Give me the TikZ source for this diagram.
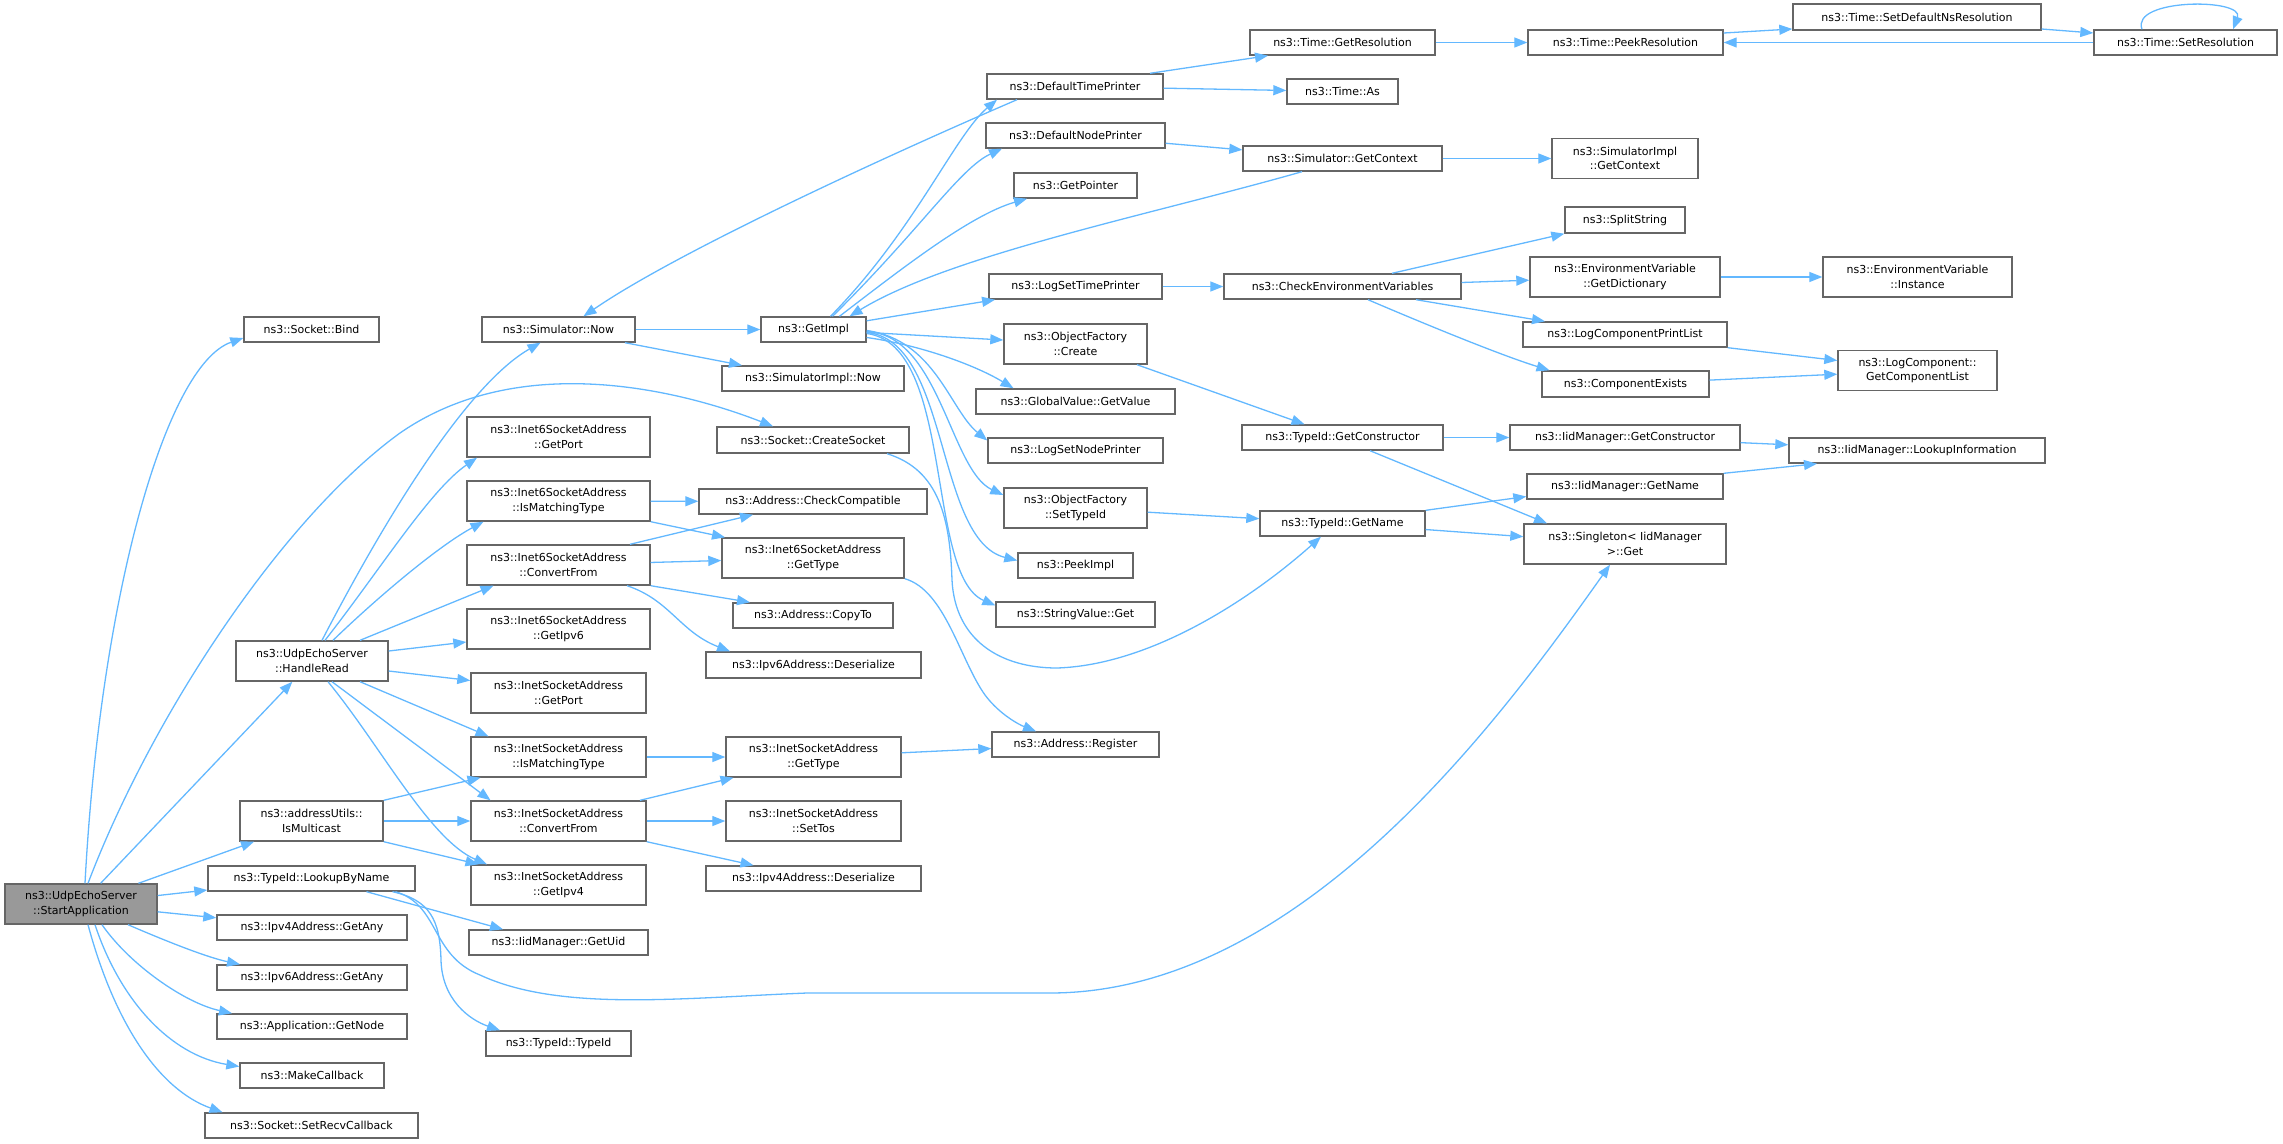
\documentclass[tikz,border=0pt]{standalone}
\usepackage{fontspec}
\setmainfont{DejaVu Sans}
\usetikzlibrary{arrows.meta}
\definecolor{edgeblue}{HTML}{63B8FF}
\definecolor{boxgray}{HTML}{666666}
\definecolor{rootfill}{HTML}{999999}
\begin{document}
\begin{tikzpicture}[x=1pt,y=-1pt,
  box/.style={draw=boxgray, line width=1.4pt, fill=white, inner sep=0pt, align=center, font=\fontsize{11}{14.5}\selectfont},
  root/.style={box, fill=rootfill},
  sz/.style 2 args={minimum width=#1pt, minimum height=#2pt},
  edge/.style={draw=edgeblue, line width=1.3pt, -{Triangle[length=13pt,width=10pt]}},
]
\useasboundingbox (0,0) rectangle (2283,1143);
% column 1-2
\node[root, sz={152}{40}] (sa) at (81,904) {ns3::UdpEchoServer\\::StartApplication};
\node[box, sz={135}{25}] (bind) at (311.5,329.5) {ns3::Socket::Bind};
\node[box, sz={152}{40}] (hr) at (312,661) {ns3::UdpEchoServer\\::HandleRead};
\node[box, sz={143}{40}] (ismc) at (311.5,821) {ns3::addressUtils::\\IsMulticast};
\node[box, sz={207}{25}] (lbn) at (311.5,878.5) {ns3::TypeId::LookupByName};
\node[box, sz={190}{25}] (v4any) at (312,927.5) {ns3::Ipv4Address::GetAny};
\node[box, sz={190}{25}] (v6any) at (312,977.5) {ns3::Ipv6Address::GetAny};
\node[box, sz={190}{25}] (getnode) at (312,1026.5) {ns3::Application::GetNode};
\node[box, sz={144}{25}] (mkcb) at (312,1075.5) {ns3::MakeCallback};
\node[box, sz={213}{25}] (recv) at (311.5,1125.5) {ns3::Socket::SetRecvCallback};
% column 3
\node[box, sz={153}{25}] (now) at (558.5,329.5) {ns3::Simulator::Now};
\node[box, sz={183}{40}] (i6port) at (558.5,437) {ns3::Inet6SocketAddress\\::GetPort};
\node[box, sz={183}{40}] (i6match) at (558.5,501) {ns3::Inet6SocketAddress\\::IsMatchingType};
\node[box, sz={183}{40}] (i6conv) at (558.5,565) {ns3::Inet6SocketAddress\\::ConvertFrom};
\node[box, sz={183}{40}] (i6ipv6) at (558.5,629) {ns3::Inet6SocketAddress\\::GetIpv6};
\node[box, sz={175}{40}] (i4port) at (558.5,693) {ns3::InetSocketAddress\\::GetPort};
\node[box, sz={175}{40}] (i4match) at (558.5,757) {ns3::InetSocketAddress\\::IsMatchingType};
\node[box, sz={175}{40}] (i4conv) at (558.5,821) {ns3::InetSocketAddress\\::ConvertFrom};
\node[box, sz={175}{40}] (i4ipv4) at (558.5,885) {ns3::InetSocketAddress\\::GetIpv4};
\node[box, sz={179}{25}] (getuid) at (558.5,942.5) {ns3::IidManager::GetUid};
\node[box, sz={145}{25}] (tid) at (558.5,1043.5) {ns3::TypeId::TypeId};
% column 4
\node[box, sz={105}{25}] (getimpl) at (813.5,329.5) {ns3::GetImpl};
\node[box, sz={182}{25}] (simimplnow) at (813,378.5) {ns3::SimulatorImpl::Now};
\node[box, sz={192}{26}] (create) at (813,440) {ns3::Socket::CreateSocket};
\node[box, sz={228}{25}] (checkc) at (813,501.5) {ns3::Address::CheckCompatible};
\node[box, sz={182}{40}] (i6type) at (813,558) {ns3::Inet6SocketAddress\\::GetType};
\node[box, sz={160}{25}] (copyto) at (813,615.5) {ns3::Address::CopyTo};
\node[box, sz={215}{26}] (v6deser) at (813.5,665) {ns3::Ipv6Address::Deserialize};
\node[box, sz={175}{40}] (i4type) at (813.5,757) {ns3::InetSocketAddress\\::GetType};
\node[box, sz={175}{40}] (settos) at (813.5,821) {ns3::InetSocketAddress\\::SetTos};
\node[box, sz={215}{25}] (v4deser) at (813.5,878.5) {ns3::Ipv4Address::Deserialize};
% column 5
\node[box, sz={176}{25}] (dtp) at (1075,86.5) {ns3::DefaultTimePrinter};
\node[box, sz={179}{25}] (dnp) at (1075.5,135.5) {ns3::DefaultNodePrinter};
\node[box, sz={123}{25}] (getptr) at (1075.5,185.5) {ns3::GetPointer};
\node[box, sz={173}{25}] (lstp) at (1075.5,286.5) {ns3::LogSetTimePrinter};
\node[box, sz={143}{40}] (ofcreate) at (1075.5,344) {ns3::ObjectFactory\\::Create};
\node[box, sz={199}{25}] (gvget) at (1075.5,401.5) {ns3::GlobalValue::GetValue};
\node[box, sz={175}{25}] (lsnp) at (1075.5,450.5) {ns3::LogSetNodePrinter};
\node[box, sz={143}{40}] (ofset) at (1075.5,508) {ns3::ObjectFactory\\::SetTypeId};
\node[box, sz={115}{25}] (peek) at (1075.5,565.5) {ns3::PeekImpl};
\node[box, sz={159}{25}] (svget) at (1075.5,614.5) {ns3::StringValue::Get};
\node[box, sz={167}{25}] (reg) at (1075.5,744.5) {ns3::Address::Register};
% column 6
\node[box, sz={185}{25}] (getres) at (1342.5,42.5) {ns3::Time::GetResolution};
\node[box, sz={111}{25}] (timeas) at (1342.5,91.5) {ns3::Time::As};
\node[box, sz={199}{25}] (getctx) at (1342.5,158.5) {ns3::Simulator::GetContext};
\node[box, sz={237}{25}] (cev) at (1342.5,286.5) {ns3::CheckEnvironmentVariables};
\node[box, sz={201}{25}] (getctor) at (1342.5,437.5) {ns3::TypeId::GetConstructor};
\node[box, sz={165}{25}] (getname) at (1342.5,523.5) {ns3::TypeId::GetName};
% column 7
\node[box, sz={195}{25}] (peekres) at (1625.5,42.5) {ns3::Time::PeekResolution};
\node[box, sz={146}{40}] (sigctx) at (1625,158.5) {ns3::SimulatorImpl\\::GetContext};
\node[box, sz={120}{26}] (split) at (1625,220) {ns3::SplitString};
\node[box, sz={190}{40}] (getdict) at (1625,277) {ns3::EnvironmentVariable\\::GetDictionary};
\node[box, sz={204}{25}] (lcpl) at (1625,334.5) {ns3::LogComponentPrintList};
\node[box, sz={167}{26}] (cexists) at (1625.5,384) {ns3::ComponentExists};
\node[box, sz={230}{25}] (iidctor) at (1625,437.5) {ns3::IidManager::GetConstructor};
\node[box, sz={196}{25}] (iidname) at (1625,486.5) {ns3::IidManager::GetName};
\node[box, sz={202}{40}] (singleton) at (1625,544) {ns3::Singleton< IidManager\\ >::Get};
% column 8-9
\node[box, sz={248}{26}] (setdef) at (1917,17) {ns3::Time::SetDefaultNsResolution};
\node[box, sz={189}{40}] (instance) at (1917.5,277) {ns3::EnvironmentVariable\\::Instance};
\node[box, sz={159}{40}] (gcl) at (1917.5,370.5) {ns3::LogComponent::\\GetComponentList};
\node[box, sz={256}{25}] (lookupinfo) at (1917,450.5) {ns3::IidManager::LookupInformation};
\node[box, sz={183}{25}] (setres) at (2185.5,42.5) {ns3::Time::SetResolution};

% ---- edges from StartApplication
\draw[edge] ([xshift=4pt]sa.north) .. controls (100,600) and (165,365) .. ([yshift=-8.5pt]bind.west);
\draw[edge] ([xshift=7pt]sa.north) .. controls (150,720) and (280,520) .. (400,433) .. controls (520,350) and (680,390) .. ([xshift=-40pt]create.north);
\draw[edge] (sa) -- (hr);
\draw[edge] (sa) -- (ismc);
\draw[edge] (sa) -- (lbn);
\draw[edge] (sa) -- (v4any);
\draw[edge] ([xshift=47pt]sa.south) .. controls (175,945) and (210,958) .. ([xshift=-72pt]v6any.north);
\draw[edge] ([xshift=21pt]sa.south) .. controls (130,965) and (185,1003) .. ([xshift=-80pt]getnode.north);
\draw[edge] ([xshift=14pt]sa.south) .. controls (120,1000) and (170,1055) .. ([yshift=9pt]mkcb.west);
\draw[edge] ([xshift=7pt]sa.south) .. controls (115,1025) and (160,1090) .. ([xshift=-89pt]recv.north);
% ---- edges from HandleRead
\draw[edge] ([xshift=10pt]hr.north) .. controls (400,490) and (475,380) .. ([xshift=-18pt]now.south);
\draw[edge] ([xshift=13pt]hr.north) .. controls (380,570) and (430,490) .. ([xshift=-81.5pt]i6port.south);
\draw[edge] ([xshift=21pt]hr.north) .. controls (380,595) and (440,545) .. ([xshift=-75pt]i6match.south);
\draw[edge] ([xshift=48pt]hr.north) -- ([xshift=-65pt]i6conv.south);
\draw[edge] ([yshift=10pt]hr.east) -- ([yshift=-13pt]i6ipv6.west);
\draw[edge] ([yshift=-10pt]hr.east) -- ([yshift=12.5pt]i4port.west);
\draw[edge] ([xshift=48pt]hr.south) -- ([xshift=-70pt]i4match.north);
\draw[edge] ([xshift=20pt]hr.south) -- ([xshift=-68pt]i4conv.north);
\draw[edge] ([xshift=16pt]hr.south) .. controls (380,745) and (430,840) .. ([xshift=-71.5pt]i4ipv4.north);
% ---- IsMulticast
\draw[edge] (ismc.north east) -- ([xshift=-78pt]i4match.south);
\draw[edge] (ismc) -- (i4conv);
\draw[edge] (ismc.south east) -- ([xshift=-80pt]i4ipv4.north);
% ---- LookupByName
\draw[edge] ([xshift=55pt]lbn.south) -- ([xshift=-55.5pt]getuid.north);
\draw[edge] ([xshift=81pt]lbn.south) .. controls (430,900) and (440,920) .. (441,960) .. controls (442,1000) and (470,1020) .. ([xshift=-58.5pt]tid.north);
\draw[edge] ([xshift=84pt]lbn.south) .. controls (440,905) and (430,955) .. (480,975) .. controls (560,1012) and (680,998) .. (807,993) -- (1050,993) .. controls (1300,993) and (1500,720) .. ([xshift=-15pt]singleton.south);
% ---- Simulator::Now
\draw[edge] (now) -- (getimpl);
\draw[edge] ([xshift=66.5pt]now.south) -- ([xshift=-71pt]simimplnow.north);
\draw[edge] ([xshift=-58pt]dtp.south) .. controls (900,150) and (680,250) .. ([xshift=25pt]now.north);
% ---- GetImpl
\draw[edge] ([xshift=17pt]getimpl.north) .. controls (915,230) and (955,135) .. ([xshift=-78pt]dtp.south);
\draw[edge] ([xshift=19pt]getimpl.north) .. controls (920,230) and (960,168) .. ([xshift=-73.5pt]dnp.south);
\draw[edge] ([xshift=26pt]getimpl.north) .. controls (900,270) and (970,215) .. ([xshift=-48.5pt]getptr.south);
\draw[edge] (getimpl) -- (lstp);
\draw[edge] (getimpl) -- (ofcreate);
\draw[edge] ([yshift=-8pt]getimpl.east) .. controls (920,345) and (975,365) .. ([xshift=-62pt]gvget.north);
\draw[edge] ([yshift=-1pt]getimpl.east) .. controls (935,340) and (950,410) .. ([yshift=10pt]lsnp.west);
\draw[edge] ([yshift=-2pt]getimpl.east) .. controls (940,335) and (950,470) .. ([yshift=13pt]ofset.west);
\draw[edge] ([yshift=-3pt]getimpl.east) .. controls (950,340) and (935,540) .. ([yshift=5pt]peek.west);
\draw[edge] ([yshift=-4pt]getimpl.east) .. controls (955,345) and (925,575) .. ([yshift=9pt]svget.west);
% ---- CreateSocket
\draw[edge] ([xshift=74pt]create.south) .. controls (940,470) and (950,520) .. (952,580) .. controls (955,640) and (1000,668) .. (1057,668) .. controls (1150,665) and (1250,600) .. ([xshift=-21.5pt]getname.south);
% ---- Inet6
\draw[edge] (i6match) -- (checkc);
\draw[edge] (i6match.south east) -- ([xshift=-88pt]i6type.north);
\draw[edge] ([xshift=71.5pt]i6conv.north) -- ([xshift=-60pt]checkc.south);
\draw[edge] (i6conv) -- (i6type);
\draw[edge] (i6conv.south east) -- ([xshift=-63pt]copyto.north);
\draw[edge] ([xshift=68.5pt]i6conv.south) .. controls (670,600) and (680,632) .. ([xshift=-83.5pt]v6deser.north);
\draw[edge] (i6type.south east) .. controls (945,590) and (960,660) .. (985,695) .. controls (1000,715) and (1020,725) .. ([xshift=-39.5pt]reg.north);
% ---- Inet4
\draw[edge] (i4match) -- (i4type);
\draw[edge] ([xshift=81.5pt]i4conv.north) -- ([xshift=-80pt]i4type.south);
\draw[edge] (i4conv) -- (settos);
\draw[edge] (i4conv.south east) -- ([xshift=-60pt]v4deser.north);
\draw[edge] (i4type) -- (reg);
% ---- column 5
\draw[edge] ([xshift=75pt]dtp.north) -- ([xshift=-74.5pt]getres.south);
\draw[edge] (dtp) -- (timeas);
\draw[edge] (dnp) -- (getctx);
\draw[edge] (getctx) -- (sigctx);
\draw[edge] ([xshift=-40.5pt]getctx.south) .. controls (1150,215) and (950,255) .. ([xshift=36pt]getimpl.north);
\draw[edge] (lstp) -- (cev);
\draw[edge] ([xshift=61.5pt]ofcreate.south) -- ([xshift=-38pt]getctor.north);
\draw[edge] (ofset) -- (getname);
% ---- column 6
\draw[edge] ([xshift=49.5pt]cev.north) -- (split.south west);
\draw[edge] (cev) -- (getdict);
\draw[edge] ([xshift=73.5pt]cev.south) -- ([xshift=-80pt]lcpl.north);
\draw[edge] ([xshift=25.5pt]cev.south) .. controls (1420,322) and (1500,355) .. ([xshift=-76pt]cexists.north);
\draw[edge] (getctor) -- (iidctor);
\draw[edge] ([xshift=27.5pt]getctor.south) -- ([xshift=-78pt]singleton.north);
\draw[edge] (getname.north east) -- ([yshift=-10pt]iidname.west);
\draw[edge] (getname) -- (singleton);
% ---- column 7+
\draw[edge] (getres) -- (peekres);
\draw[edge] ([yshift=9.5pt]peekres.east) -- ([yshift=-12pt]setdef.west);
\draw[edge] ([yshift=-12pt]setdef.east) -- ([yshift=9.5pt]setres.west);
\draw[edge] (setres) -- (peekres);
\draw[edge] ([xshift=-43.5pt]setres.north) .. controls (2130,-2) and (2245,-2) .. ([xshift=47.5pt]setres.north);
\draw[edge] (getdict) -- (instance);
\draw[edge] (lcpl.south east) -- ([yshift=10pt]gcl.west);
\draw[edge] (cexists) -- (gcl);
\draw[edge] (iidctor) -- (lookupinfo);
\draw[edge] (iidname.north east) -- ([xshift=-100pt]lookupinfo.south);
\end{tikzpicture}
\end{document}
